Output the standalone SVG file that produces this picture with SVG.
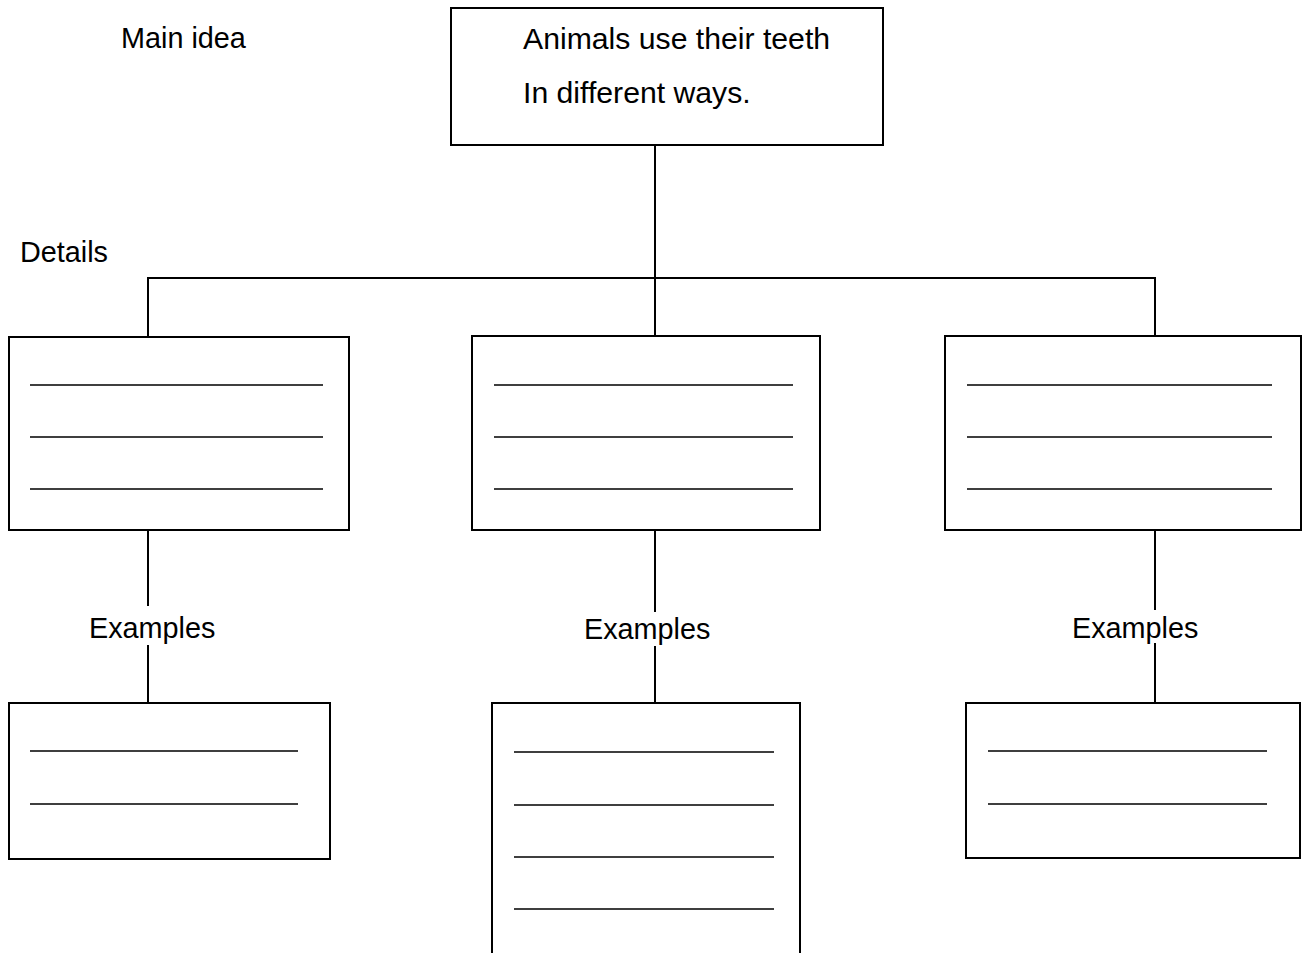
<svg xmlns="http://www.w3.org/2000/svg" width="1305" height="953" viewBox="0 0 1305 953">
<style>
.box{fill:#fff;stroke:#000;stroke-width:2}
.rule{stroke:#000;stroke-width:1.5}
.conn{stroke:#000;stroke-width:2;fill:none}
.lbl{font-family:"Liberation Sans",Arial,sans-serif;font-size:28.8px;fill:#000}
.ttl{font-family:"Liberation Sans",Arial,sans-serif;font-size:30.2px;fill:#000}
</style>
<rect width="1305" height="953" fill="#fff"/>
<g id="connectors">
<path class="conn" d="M655 145V336"/>
<path class="conn" d="M148 337V278H1155V336"/>
<path class="conn" d="M148 530V606M148 645V703"/>
<path class="conn" d="M655 530V612M655 646V703"/>
<path class="conn" d="M1155 530V610M1155 643V703"/>
</g>
<g id="label-main"><text class="lbl" x="121" y="48">Main idea</text></g>
<g id="label-details"><text class="lbl" x="20" y="262">Details</text></g>
<g id="main">
<rect class="box" x="451" y="8" width="432" height="137"/>
<text class="ttl" x="523" y="49">Animals use their teeth</text>
<text class="ttl" x="523" y="103">In different ways.</text>
</g>
<g id="detail1">
<rect class="box" x="9" y="337" width="340" height="193"/>
<path class="rule" d="M30 385H323M30 437H323M30 489H323"/>
</g>
<g id="detail2">
<rect class="box" x="472" y="336" width="348" height="194"/>
<path class="rule" d="M494 385H793M494 437H793M494 489H793"/>
</g>
<g id="detail3">
<rect class="box" x="945" y="336" width="356" height="194"/>
<path class="rule" d="M967 385H1272M967 437H1272M967 489H1272"/>
</g>
<g id="examples1-label"><text class="lbl" x="89" y="638">Examples</text></g>
<g id="examples2-label"><text class="lbl" x="584" y="639">Examples</text></g>
<g id="examples3-label"><text class="lbl" x="1072" y="638">Examples</text></g>
<g id="example1">
<rect class="box" x="9" y="703" width="321" height="156"/>
<path class="rule" d="M30 751H298M30 804H298"/>
</g>
<g id="example2">
<rect class="box" x="492" y="703" width="308" height="270"/>
<path class="rule" d="M514 752H774M514 805H774M514 857H774M514 909H774"/>
</g>
<g id="example3">
<rect class="box" x="966" y="703" width="334" height="155"/>
<path class="rule" d="M988 751H1267M988 804H1267"/>
</g>
</svg>
